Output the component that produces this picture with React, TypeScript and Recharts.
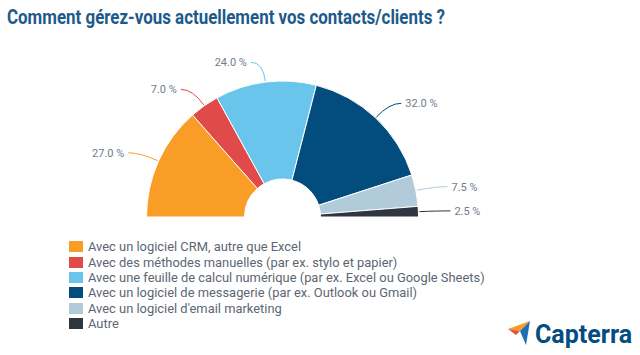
import { Cell, Legend, Pie, PieChart } from "recharts";

const categories = [
  "Avec un logiciel CRM, autre que Excel",
  "Avec des méthodes manuelles (par ex. stylo et papier)",
  "Avec une feuille de calcul numérique (par ex. Excel ou Google Sheets)",
  "Avec un logiciel de messagerie (par ex. Outlook ou Gmail)",
  "Avec un logiciel d'email marketing",
  "Autre",
];
const shares = [27.0, 7.0, 24.0, 32.0, 7.5, 2.5];
const colors = ["#F99D27", "#E04B4A", "#6AC5EC", "#034C7E", "#B2CBDB", "#2F363F"];

const data = categories.map((name, i) => ({ name, value: shares[i] }));

const RAD = Math.PI / 180;
const labelGray = "#6F7C8A";

const renderLabel = (props: any) => {
  const { cx, cy, midAngle, outerRadius, value, index } = props;
  const cos = Math.cos(-midAngle * RAD);
  const sin = Math.sin(-midAngle * RAD);
  const sx = cx + (outerRadius + 1) * cos;
  const sy = cy + (outerRadius + 1) * sin;
  const mx = cx + (outerRadius + 20) * cos;
  const my = cy + (outerRadius + 20) * sin;
  const right = cos >= 0;
  const ex = mx + (right ? 12 : -12);
  const ey = my;
  return (
    <g key={`lbl-${index}`}>
      <path
        d={`M${sx},${sy} Q${mx},${my} ${ex},${ey}`}
        stroke={colors[index]}
        strokeWidth={1}
        fill="none"
      />
      <text
        x={ex + (right ? 4 : -4)}
        y={ey}
        dy={4}
        textAnchor={right ? "start" : "end"}
        fill={labelGray}
        fontSize={11}
        fontFamily="Roboto, sans-serif"
      >
        {value.toFixed(1)} %
      </text>
    </g>
  );
};

// legend drawn from our own arrays so order and colours match the source
const renderLegend = () => (
  <div style={{ fontFamily: "Roboto, sans-serif" }}>
    {categories.map((name, i) => (
      <div key={name} style={{ display: "flex", alignItems: "center", height: 15.4 }}>
        <span
          style={{
            width: 14,
            height: 11,
            background: colors[i],
            marginRight: 5,
            display: "inline-block",
          }}
        />
        <span style={{ fontSize: 12.9, color: "#5C6672", lineHeight: "15px" }}>{name}</span>
      </div>
    ))}
  </div>
);

export default function App() {
  return (
    <div
      style={{
        position: "absolute",
        left: 0,
        top: 0,
        width: 640,
        height: 355,
        background: "#fff",
        overflow: "hidden",
      }}
    >
      <svg width={640} height={40} style={{ position: "absolute", left: 0, top: 0 }}>
        <text
          x={7}
          y={24}
          fontSize={20}
          fontWeight={700}
          fontFamily="Roboto, sans-serif"
          fill="#1D5A8B"
          textLength={438}
          lengthAdjust="spacingAndGlyphs"
        >
          Comment gérez-vous actuellement vos contacts/clients ?
        </text>
      </svg>
      <div style={{ position: "absolute", left: 0, top: 0 }}>
        <PieChart width={640} height={355}>
          <Pie
            data={data}
            dataKey="value"
            nameKey="name"
            cx={277.5}
            cy={212}
            startAngle={180}
            endAngle={0}
            innerRadius={38}
            outerRadius={136}
            stroke="#fff"
            strokeWidth={1}
            label={renderLabel}
            labelLine={false}
            isAnimationActive={false}
          >
            {data.map((d, i) => (
              <Cell key={d.name} fill={colors[i]} />
            ))}
          </Pie>
          <Legend
            content={renderLegend}
            layout="vertical"
            wrapperStyle={{ position: "absolute", left: 69, top: 239, width: 480 }}
          />
        </PieChart>
      </div>
      <svg width={140} height={40} style={{ position: "absolute", left: 500, top: 315 }}>
        <polygon points="8,14 30,6 20,16" fill="#F99D27" />
        <polygon points="20,16 30,6 26,30" fill="#1E6FB3" />
        <polygon points="8,14 20,16 16,20" fill="#E0563A" />
        <text
          x={35}
          y={28}
          fontSize={25}
          fontWeight={700}
          fontFamily="Roboto, sans-serif"
          fill="#044D80"
        >
          Capterra
        </text>
      </svg>
    </div>
  );
}
